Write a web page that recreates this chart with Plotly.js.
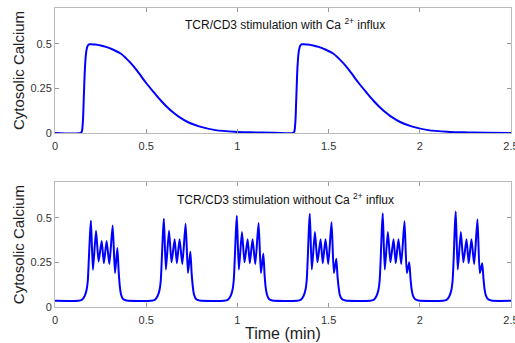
<!DOCTYPE html>
<html>
<head>
<meta charset="utf-8">
<script src="https://cdn.plot.ly/plotly-3.0.1.min.js"></script>
<style>html,body{margin:0;padding:0;background:#fff}#chart{width:515px;height:343px}</style>
</head>
<body>
<div id="chart"></div>
<script>
// Top panel: with Ca2+ influx
const timeWith = [0, 0.14, 0.146, 0.152, 0.158, 0.165, 0.172, 0.18, 0.19, 0.22, 0.25, 0.28, 0.32, 0.36, 0.39, 0.43, 0.46, 0.5, 0.54, 0.58, 0.61, 0.65, 0.68, 0.73, 0.79, 0.88, 1.0, 1.1, 1.2,
  1.305, 1.311, 1.317, 1.323, 1.33, 1.337, 1.345, 1.355, 1.385, 1.415, 1.445, 1.485, 1.525, 1.555, 1.595, 1.625, 1.665, 1.705, 1.745, 1.775, 1.815, 1.845, 1.895, 1.955, 2.045, 2.165, 2.265, 2.365, 2.5];
const calciumWith = [0, 0, 0.005, 0.05, 0.2, 0.38, 0.46, 0.49, 0.497, 0.495, 0.49, 0.482, 0.466, 0.445, 0.418, 0.375, 0.335, 0.28, 0.23, 0.182, 0.15, 0.113, 0.09, 0.06, 0.037, 0.016, 0.006, 0.003, 0.001,
  0, 0.005, 0.05, 0.2, 0.38, 0.46, 0.49, 0.497, 0.495, 0.49, 0.482, 0.466, 0.445, 0.418, 0.375, 0.335, 0.28, 0.23, 0.182, 0.15, 0.113, 0.09, 0.06, 0.037, 0.016, 0.006, 0.003, 0.001, 0];

// Bottom panel: without Ca2+ influx
const timeWithout = [0,
  0.127, 0.147, 0.162, 0.173, 0.180, 0.186, 0.192, 0.197, 0.208, 0.225, 0.239, 0.256, 0.268, 0.283, 0.298, 0.316, 0.329, 0.342, 0.349, 0.355, 0.362, 0.373, 0.392,
  0.527, 0.547, 0.562, 0.573, 0.580, 0.586, 0.592, 0.597, 0.608, 0.625, 0.639, 0.656, 0.668, 0.683, 0.698, 0.716, 0.729, 0.742, 0.749, 0.755, 0.762, 0.773, 0.792,
  0.927, 0.947, 0.962, 0.973, 0.980, 0.986, 0.992, 0.997, 1.008, 1.025, 1.039, 1.056, 1.068, 1.083, 1.098, 1.116, 1.129, 1.142, 1.149, 1.155, 1.162, 1.173, 1.192,
  1.327, 1.347, 1.362, 1.373, 1.380, 1.386, 1.392, 1.397, 1.408, 1.425, 1.439, 1.456, 1.468, 1.483, 1.498, 1.516, 1.529, 1.542, 1.549, 1.555, 1.562, 1.573, 1.592,
  1.727, 1.747, 1.762, 1.773, 1.780, 1.786, 1.792, 1.797, 1.808, 1.825, 1.839, 1.856, 1.868, 1.883, 1.898, 1.916, 1.929, 1.942, 1.949, 1.955, 1.962, 1.973, 1.992,
  2.127, 2.147, 2.162, 2.173, 2.180, 2.186, 2.192, 2.197, 2.208, 2.225, 2.239, 2.256, 2.268, 2.283, 2.298, 2.316, 2.329, 2.342, 2.349, 2.355, 2.362, 2.373, 2.392,
  2.5];
const calciumWithout = [0.035,
  0.035, 0.04, 0.06, 0.095, 0.15, 0.28, 0.41, 0.483, 0.208, 0.427, 0.255, 0.37, 0.245, 0.37, 0.24, 0.457, 0.19, 0.33, 0.2, 0.12, 0.07, 0.045, 0.036,
  0.035, 0.04, 0.06, 0.095, 0.15, 0.28, 0.42, 0.494, 0.21, 0.427, 0.25, 0.38, 0.245, 0.38, 0.24, 0.466, 0.19, 0.31, 0.19, 0.12, 0.07, 0.045, 0.036,
  0.035, 0.04, 0.06, 0.095, 0.15, 0.28, 0.43, 0.511, 0.21, 0.42, 0.25, 0.38, 0.245, 0.38, 0.24, 0.47, 0.19, 0.30, 0.18, 0.11, 0.07, 0.045, 0.036,
  0.035, 0.04, 0.06, 0.095, 0.15, 0.28, 0.44, 0.522, 0.21, 0.42, 0.25, 0.38, 0.245, 0.38, 0.24, 0.475, 0.19, 0.27, 0.17, 0.11, 0.065, 0.045, 0.036,
  0.035, 0.04, 0.06, 0.095, 0.15, 0.28, 0.44, 0.525, 0.21, 0.42, 0.25, 0.38, 0.245, 0.38, 0.24, 0.48, 0.19, 0.25, 0.16, 0.10, 0.065, 0.045, 0.036,
  0.035, 0.04, 0.06, 0.095, 0.15, 0.28, 0.45, 0.535, 0.21, 0.42, 0.25, 0.38, 0.245, 0.38, 0.24, 0.49, 0.19, 0.245, 0.16, 0.10, 0.065, 0.045, 0.036,
  0.035];

const xTickVals = [0, 0.5, 1, 1.5, 2, 2.5];
const xTickText = ['0', '0.5', '1', '1.5', '2', '2.5'];
const yTickVals = [0, 0.25, 0.5];
const yTickText = ['0', '0.25', '0.5'];

const titleTop = 'TCR/CD3 stimulation with Ca <sup>2+</sup> influx';
const titleBottom = 'TCR/CD3 stimulation without Ca <sup>2+</sup> influx';
const yTitle = 'Cytosolic Calcium';
const xTitle = 'Time (min)';

const FONT = 'Liberation Sans, Arial, Helvetica, sans-serif';

const traces = [
  {x: timeWith, y: calciumWith, xaxis: 'x', yaxis: 'y', mode: 'lines',
    line: {color: '#0000ff', width: 2, shape: 'spline', smoothing: 1}, hoverinfo: 'skip'},
  {x: timeWithout, y: calciumWithout, xaxis: 'x2', yaxis: 'y2', mode: 'lines',
    line: {color: '#0000ff', width: 2, shape: 'spline', smoothing: 0.6}, hoverinfo: 'skip'}
];

function xAxis(anchor) {
  return {anchor: anchor, range: [0, 2.5], tickvals: xTickVals, ticktext: xTickText,
    ticks: 'inside', ticklen: 4, tickcolor: '#999', showline: true, linecolor: '#bbb', linewidth: 1,
    mirror: 'allticks', showgrid: false, zeroline: false, ticklabeloverflow: 'allow', ticklabelstandoff: 3,
    tickfont: {family: FONT, size: 11, color: '#333'}};
}
function yAxis(anchor, domain) {
  return {anchor: anchor, domain: domain, range: [0, 0.7], tickvals: yTickVals, ticktext: yTickText,
    ticks: 'inside', ticklen: 4, tickcolor: '#999', showline: true, linecolor: '#bbb', linewidth: 1,
    mirror: 'allticks', showgrid: false, zeroline: false,
    tickfont: {family: FONT, size: 11, color: '#333'}};
}

const layout = {
  width: 515, height: 343,
  margin: {l: 55, r: 4, t: 8, b: 36},
  paper_bgcolor: '#fff', plot_bgcolor: '#fff',
  showlegend: false,
  xaxis: xAxis('y'),
  yaxis: yAxis('x', [0.582, 1]),
  xaxis2: xAxis('y2'),
  yaxis2: yAxis('x2', [0, 0.418]),
  annotations: [
    {text: titleTop, xref: 'paper', yref: 'paper', x: 0.505, y: 0.9465, xanchor: 'center', yanchor: 'middle', showarrow: false,
      font: {family: FONT, size: 12, color: '#111'}},
    {text: titleBottom, xref: 'paper', yref: 'paper', x: 0.505, y: 0.361, xanchor: 'center', yanchor: 'middle', showarrow: false,
      font: {family: FONT, size: 12, color: '#111'}},
    {text: yTitle, xref: 'paper', yref: 'paper', x: -0.0811, y: 0.789, xanchor: 'center', yanchor: 'middle', textangle: -90, showarrow: false,
      font: {family: FONT, size: 15, color: '#222'}},
    {text: yTitle, xref: 'paper', yref: 'paper', x: -0.0811, y: 0.207, xanchor: 'center', yanchor: 'middle', textangle: -90, showarrow: false,
      font: {family: FONT, size: 15, color: '#222'}},
    {text: xTitle, xref: 'paper', yref: 'paper', x: 0.5, y: -0.087, xanchor: 'center', yanchor: 'middle', showarrow: false,
      font: {family: FONT, size: 16, color: '#222'}}
  ]
};

Plotly.newPlot('chart', traces, layout, {staticPlot: true, displayModeBar: false});
</script>
</body>
</html>
